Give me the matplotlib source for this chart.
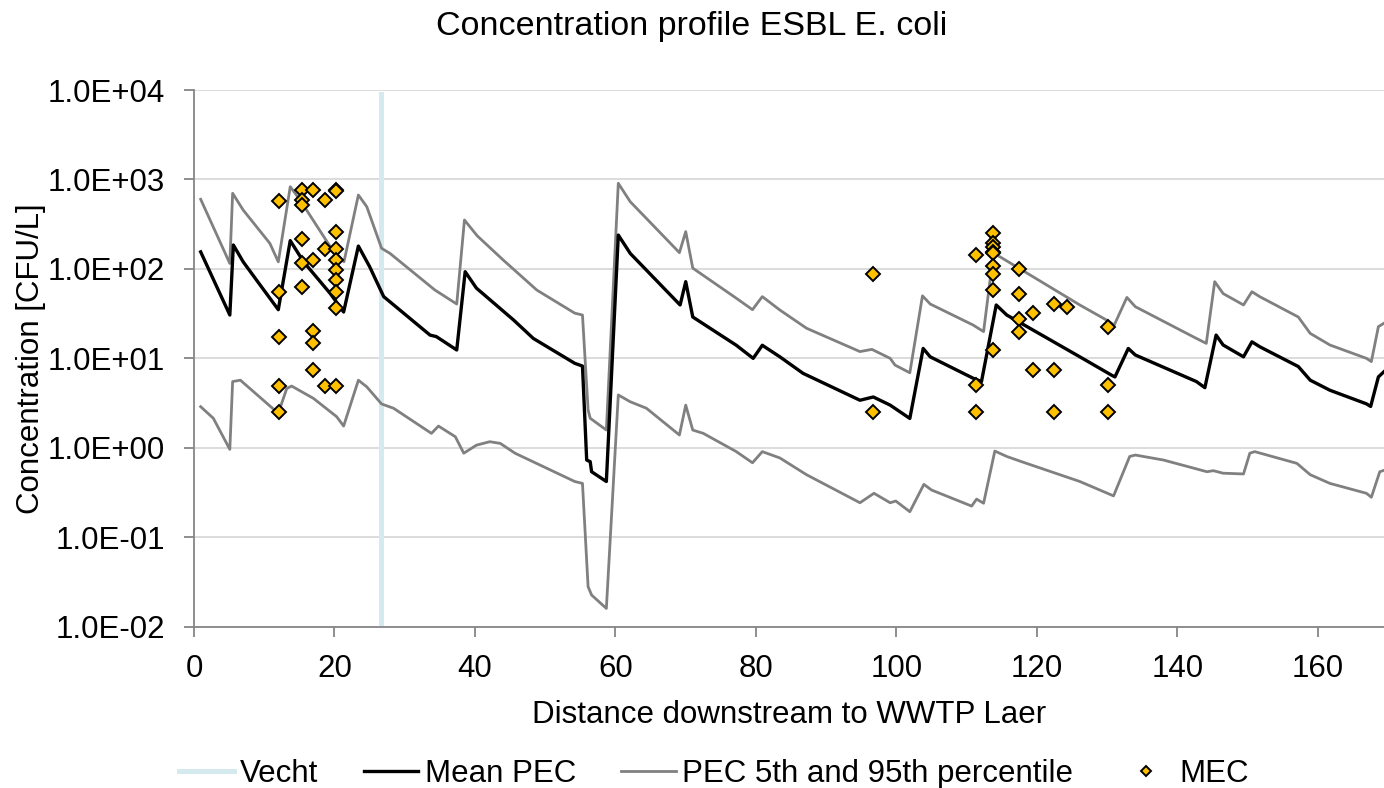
import matplotlib
matplotlib.use("Agg")
import matplotlib.pyplot as plt
from matplotlib.ticker import FixedLocator, FuncFormatter, NullLocator

plt.rcParams['font.family'] = ['Liberation Sans', 'DejaVu Sans']

# Mean PEC (black line)
mean_x = [0.95, 5.1, 5.6, 7.0, 8.9, 12.0, 13.7, 15.6, 19.4, 21.3, 23.4, 25.0, 27.0, 33.6, 34.5, 37.4,
          38.6, 40.2, 45.5, 48.3, 54.2, 55.3, 55.9, 56.4, 56.6, 58.7, 60.4, 62.1, 69.2, 70.0, 71.0,
          77.2, 79.6, 80.9, 83.4, 86.7, 94.8, 96.7, 99.1, 101.9, 103.8, 104.8, 110.9, 112.1, 114.2,
          115.7, 126.1, 130.6, 131.1, 133.0, 134.0, 142.7, 143.9, 145.5, 146.5, 149.4, 150.6, 151.7,
          157.2, 158.9, 161.7, 166.9, 167.5, 168.6, 169.4]
mean_y = [155, 30.5, 185, 120, 75, 35, 207, 120, 53, 33, 180, 106, 49, 18.2, 17.5, 12.4,
          93, 61, 26.8, 16.7, 8.8, 8.2, 0.73, 0.70, 0.54, 0.42, 239, 149, 39.5, 72, 29,
          14, 10, 14, 10.4, 6.8, 3.4, 3.7, 3.0, 2.13, 12.9, 10.4, 6.0, 5.5, 39.5,
          30.5, 10.4, 6.5, 6.2, 12.9, 10.9, 5.5, 4.7, 18.2, 14.1, 10.4, 15.3, 13.5,
          8.1, 5.7, 4.4, 3.1, 2.9, 6.2, 7.1]

# PEC 95th percentile (upper grey line)
p95_x = [0.95, 5.1, 5.5, 7.0, 10.8, 12.0, 13.7, 15.1, 19.4, 21.35, 23.4, 24.6, 26.7, 27.9, 34.3, 37.4,
         38.5, 40.3, 44.0, 48.8, 54.2, 55.3, 56.1, 56.4, 58.7, 60.4, 62.1, 69.1, 70.0, 71.0, 77.2,
         79.5, 80.9, 83.4, 87.2, 94.8, 96.5, 99.1, 99.8, 101.9, 103.7, 104.8, 110.9, 112.4, 113.8,
         114.7, 126.1, 129.9, 131.0, 132.8, 134.0, 142.7, 144.1, 145.3, 146.5, 149.4, 150.6, 151.7,
         157.2, 158.9, 161.7, 166.9, 167.6, 168.6, 169.4]
p95_y = [600, 115, 700, 455, 193, 120, 830, 589, 177, 120, 670, 495, 170, 149, 58, 40.5,
         352, 235, 126, 58, 32, 30.5, 2.65, 2.14, 1.58, 905, 564, 152, 261, 102, 47,
         35, 49, 34.7, 21.7, 11.9, 12.6, 10, 8.4, 6.9, 50, 40.5, 23.6, 19.9, 149,
         137, 39.5, 26.8, 23.6, 48, 37.8, 16.7, 14.7, 72, 53, 39.5, 55.6, 49,
         29, 19, 14.1, 10, 9.2, 22.6, 24.7]

# PEC 5th percentile (lower grey line)
p5_x = [0.95, 2.75, 5.1, 5.5, 6.6, 12.0, 13.2, 13.9, 17.0, 20.3, 21.3, 23.4, 24.6, 26.7, 28.4, 33.8,
        34.8, 37.2, 38.4, 40.2, 42.1, 43.6, 45.7, 54.2, 55.3, 56.1, 56.6, 58.7, 60.4, 62.1, 64.4,
        69.1, 70.0, 71.0, 72.5, 77.2, 79.5, 80.9, 83.4, 87.2, 94.8, 96.8, 99.1, 99.9, 101.9, 103.9,
        105.0, 110.7, 111.4, 112.4, 114.0, 115.7, 117.8, 126.1, 130.9, 133.2, 134.0, 138.0, 144.2,
        145.1, 146.5, 149.4, 150.3, 151.0, 157.0, 158.9, 161.7, 166.9, 167.6, 168.8, 169.4]
p5_y = [2.88, 2.14, 0.96, 5.5, 5.7, 2.43, 4.6, 4.9, 3.57, 2.23, 1.75, 5.7, 4.8, 3.09, 2.77, 1.45,
        1.75, 1.33, 0.87, 1.07, 1.17, 1.12, 0.87, 0.42, 0.40, 0.028, 0.0226, 0.016, 3.9, 3.27, 2.77,
        1.39, 3.0, 1.58, 1.45, 0.906, 0.68, 0.906, 0.77, 0.50, 0.243, 0.31, 0.243, 0.254, 0.193, 0.39,
        0.337, 0.223, 0.267, 0.24, 0.92, 0.80, 0.70, 0.42, 0.29, 0.80, 0.83, 0.73, 0.54,
        0.555, 0.52, 0.51, 0.87, 0.906, 0.67, 0.50, 0.40, 0.31, 0.28, 0.54, 0.56]

# measured concentrations (MEC)
mec_x = [12.15, 12.15, 12.15, 12.15, 12.15,
         15.33, 15.33, 15.33, 15.33, 15.33, 15.33,
         16.98, 16.98, 16.98, 16.98, 16.98,
         18.65, 18.65, 18.65,
         20.17, 20.17, 20.17, 20.17, 20.17, 20.17, 20.17, 20.17, 20.17, 20.17,
         96.6, 96.6,
         111.3, 111.3, 111.3,
         113.8, 113.8, 113.8, 113.8, 113.8, 113.8, 113.8, 113.8, 113.8,
         117.4, 117.4, 117.4, 117.4,
         119.5, 119.5,
         122.4, 122.4, 122.4,
         124.3,
         130.1, 130.1, 130.1]
mec_y = [574, 55, 17.5, 4.95, 2.49,
         762, 589, 518, 218, 115, 62,
         762, 126, 20.4, 15, 7.5,
         589, 167, 4.95,
         762, 740, 256, 167, 126, 97, 75, 55, 37, 4.95,
         87, 2.49,
         142, 5.0, 2.49,
         254, 193, 177, 156, 150, 109, 87, 58, 12.4,
         100, 52, 27.5, 19.9,
         32.4, 7.5,
         40, 7.5, 2.49,
         37.8,
         22.6, 5.0, 2.49]

vecht_x = [26.6, 26.6]
vecht_y = [0.01, 9000]

W, H = 1384, 788
fs = 22.5

fig = plt.figure(figsize=(W / 100, H / 100), dpi=100)
ax = fig.add_axes([194 / W, 1 - 626.7 / H, 1 - 194 / W, (626.7 - 90) / H])

ax.plot(vecht_x, vecht_y, color='#D5EAEE', lw=3.6, label='Vecht', zorder=2)
ax.plot(p95_x, p95_y, color='#808080', lw=2.0, label='PEC 5th and 95th percentile', zorder=3)
ax.plot(p5_x, p5_y, color='#808080', lw=2.0, zorder=3)
ax.plot(mean_x, mean_y, color='black', lw=2.4, label='Mean PEC', zorder=4)
ax.plot(mec_x, mec_y, ls='none', marker='D', ms=7.0, mfc='#FFC000', mec='black', mew=1.4,
        label='MEC', zorder=5)

ax.set_yscale('log')
ax.set_ylim(0.01, 10000)
ax.set_xlim(0, 169.4)
ax.yaxis.set_major_locator(FixedLocator([1e-2, 1e-1, 1e0, 1e1, 1e2, 1e3, 1e4]))
ax.yaxis.set_minor_locator(NullLocator())
ax.yaxis.set_major_formatter(FuncFormatter(lambda v, p: '{:.1E}'.format(v)))
ax.set_xticks([0, 20, 40, 60, 80, 100, 120, 140, 160])

ax.grid(axis='y', color='#D9D9D9', lw=1.3)
ax.set_axisbelow(True)
for s in ['top', 'right']:
    ax.spines[s].set_visible(False)
for s in ['left', 'bottom']:
    ax.spines[s].set_color('#868686')
    ax.spines[s].set_linewidth(1.3)
ax.tick_params(axis='both', colors='#868686', labelcolor='black', labelsize=fs, length=7, width=1.3)
ax.tick_params(axis='x', pad=13)
ax.tick_params(axis='y', pad=14)

ax.set_xlabel('Distance downstream to WWTP Laer', fontsize=fs, labelpad=11)
ax.set_ylabel('Concentration [CFU/L]', fontsize=fs)
ax.yaxis.set_label_coords(-0.124, 0.5)
fig.text(0.5, 1 - 35 / H, 'Concentration profile ESBL E. coli', fontsize=24.5,
         ha='center', va='baseline')

handles, labels = ax.get_legend_handles_labels()
order = [0, 2, 1, 3]
fig.legend([handles[i] for i in order], [labels[i] for i in order], loc='center',
           bbox_to_anchor=(714 / W, 1 - 774 / H), ncol=4, frameon=False, fontsize=fs,
           handlelength=1.75, handletextpad=0.2, columnspacing=1.45, markerscale=0.7,
           borderpad=0)

fig.savefig('out.png', dpi=100)
